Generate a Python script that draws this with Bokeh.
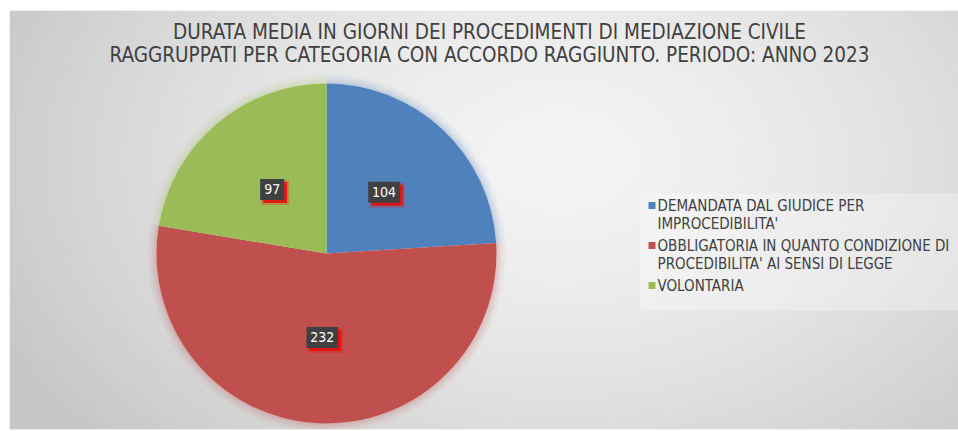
import numpy as np
from bokeh.plotting import figure
from bokeh.models import Range1d
from bokeh.embed import file_html
from bokeh.resources import INLINE
from bokeh.core.properties import value

# ---------------- data ----------------
title_lines = [
    "DURATA MEDIA IN GIORNI DEI PROCEDIMENTI DI MEDIAZIONE CIVILE",
    "RAGGRUPPATI PER CATEGORIA CON ACCORDO RAGGIUNTO. PERIODO: ANNO 2023",
]
categories = [
    "DEMANDATA DAL GIUDICE PER\nIMPROCEDIBILITA'",
    "OBBLIGATORIA IN QUANTO CONDIZIONE DI\nPROCEDIBILITA' AI SENSI DI LEGGE",
    "VOLONTARIA",
]
values = [104, 232, 97]
colors = ["#4f81bd", "#c0504d", "#9bbb59"]

FONT = "DejaVu Sans Condensed"
TXT = "#404040"

W, H = 949, 419


def X(px):
    return px - 9


def Y(py):
    return 429 - py


p = figure(width=958, height=431, x_range=Range1d(0, W), y_range=Range1d(0, H),
           output_backend="svg", toolbar_location=None,
           x_axis_type=None, y_axis_type=None,
           min_border_left=9, min_border_right=0, min_border_top=10, min_border_bottom=2)
p.grid.visible = False
p.outline_line_color = None
p.border_fill_color = "white"

# background gradient
yy, xx = np.mgrid[0:H, 0:W]
page_x = xx + 9
page_y = 429 - yy
t = np.sqrt(((page_x - 560) / 620.0) ** 2 + ((page_y - 160) / 420.0) ** 2).clip(0, 1)
g = (244 - 45 * t ** 1.5).astype(np.uint8)
img = np.empty((H, W), dtype=np.uint32)
view = img.view(dtype=np.uint8).reshape((H, W, 4))
view[..., 0] = g
view[..., 1] = g
view[..., 2] = g
view[..., 3] = 255
p.image_rgba(image=[img], x=0, y=0, dw=W, dh=H)

# title
for i, line in enumerate(title_lines):
    p.text(x=[X(489)], y=[Y(31 + 23 * i)], text=[line], text_font=value(FONT),
           text_font_size="20.5px", text_color=TXT, text_align="center", text_baseline="middle")

# pie
cx, cy, R = X(326), Y(253), 170
vals = np.array(values, dtype=float)
fr = vals / vals.sum()
cum = np.cumsum(fr)
starts = np.pi / 2 - 2 * np.pi * np.concatenate([[0.0], cum[:-1]])
ends = np.pi / 2 - 2 * np.pi * cum

# soft glow
for k in range(1, 13):
    a = 0.35 * (1 - k / 13.0) ** 2
    p.annular_wedge(x=cx, y=cy, inner_radius=R + k - 1, outer_radius=R + k,
                    start_angle=starts, end_angle=ends, direction="clock",
                    fill_color=colors, fill_alpha=a, line_color=None)

p.wedge(x=cx, y=cy, radius=R, start_angle=starts, end_angle=ends, direction="clock",
        fill_color=colors, line_color=None)

# data labels
mids = (starts + ends) / 2
lr = 84
lx = cx + lr * np.cos(mids)
ly = cy + lr * np.sin(mids)
labels = [str(v) for v in values]
bw = [7.5 * len(s) + 9 for s in labels]
p.rect(x=lx + 3, y=ly - 3, width=[w + 4 for w in bw], height=25, fill_color="#ff0000",
       fill_alpha=0.25, line_color=None)
p.rect(x=lx + 3, y=ly - 3, width=bw, height=21, fill_color="#e01010",
       fill_alpha=0.9, line_color=None)
p.rect(x=lx, y=ly, width=bw, height=21, fill_color="#404040", line_color=None)
p.text(x=lx, y=ly, text=labels, text_font=value(FONT), text_font_size="14px",
       text_color="white", text_align="center", text_baseline="middle")

# legend
p.rect(x=X((640 + 958) / 2), y=Y((193 + 310) / 2), width=318, height=117,
       fill_color="white", fill_alpha=0.3, line_color=None)
my = [Y(205 + 40 * i) for i in range(len(categories))]
p.rect(x=[X(651.5)] * len(categories), y=my, width=7, height=7, fill_color=colors, line_color=None)
p.text(x=[X(657)] * len(categories), y=[v + 9 for v in my], text=categories,
       text_font=value(FONT), text_font_size="15px", text_color=TXT,
       text_align="left", text_baseline="top", text_line_height=1.0)

open("out.html", "w").write(file_html(p, INLINE))
